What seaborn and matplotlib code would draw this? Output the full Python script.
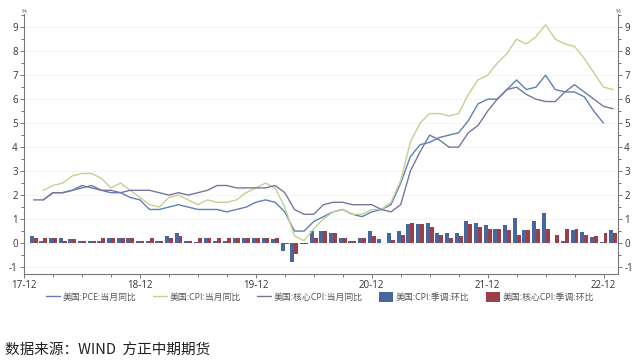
import pandas as pd
import matplotlib.pyplot as plt
import seaborn as sns
from matplotlib.lines import Line2D
from matplotlib.patches import Patch
from matplotlib.ticker import MultipleLocator

# month index: 0 = 2017-12, 1 = 2018-01, ... 61 = 2023-01
pce_start, cpi_start, core_start = 2, 2, 1

pce_yoy = [1.8, 2.1, 2.1, 2.2, 2.4, 2.3, 2.2, 2.1, 2.1, 1.9, 1.8,
           1.4, 1.4, 1.5, 1.6, 1.5, 1.4, 1.4, 1.4, 1.3, 1.4, 1.5, 1.7,
           1.8, 1.7, 1.3, 0.5, 0.5, 0.9, 1.1, 1.3, 1.4, 1.2, 1.1, 1.3,
           1.4, 1.6, 2.5, 3.6, 4.1, 4.2, 4.4, 4.5, 4.6, 5.1, 5.8, 6.0,
           6.0, 6.4, 6.8, 6.4, 6.5, 7.0, 6.4, 6.3, 6.3, 6.1, 5.5, 5.0]

cpi_yoy = [2.2, 2.4, 2.5, 2.8, 2.9, 2.9, 2.7, 2.3, 2.5, 2.2, 1.9,
           1.6, 1.5, 1.9, 2.0, 1.8, 1.6, 1.8, 1.7, 1.7, 1.8, 2.1, 2.3,
           2.5, 2.3, 1.5, 0.3, 0.1, 0.6, 1.0, 1.3, 1.4, 1.2, 1.2, 1.4,
           1.4, 1.7, 2.6, 4.2, 5.0, 5.4, 5.4, 5.3, 5.4, 6.2, 6.8, 7.0,
           7.5, 7.9, 8.5, 8.3, 8.6, 9.1, 8.5, 8.3, 8.2, 7.7, 7.1, 6.5,
           6.4]

core_yoy = [1.8, 1.8, 2.1, 2.1, 2.2, 2.3, 2.4, 2.2, 2.2, 2.1, 2.2, 2.2,
            2.2, 2.1, 2.0, 2.1, 2.0, 2.1, 2.2, 2.4, 2.4, 2.3, 2.3, 2.3,
            2.3, 2.4, 2.1, 1.4, 1.2, 1.2, 1.6, 1.7, 1.7, 1.6, 1.6, 1.6,
            1.4, 1.3, 1.6, 3.0, 3.8, 4.5, 4.3, 4.0, 4.0, 4.6, 4.9, 5.5,
            6.0, 6.4, 6.5, 6.2, 6.0, 5.9, 5.9, 6.3, 6.6, 6.3, 6.0, 5.7,
            5.6]

cpi_mom = [0.3, 0.1, 0.2, 0.2, 0.15, 0.1, 0.1, 0.1, 0.2, 0.2, 0.2, 0.1,
           0.1, 0.1, 0.3, 0.4, 0.1, 0.05, 0.2, 0.1, 0.1, 0.2, 0.2, 0.2,
           0.2, 0.15, -0.35, -0.8, -0.05, 0.5, 0.5, 0.42, 0.22, 0.1, 0.2, 0.5,
           0.18, 0.42, 0.5, 0.8, 0.8, 0.85, 0.42, 0.4, 0.42, 0.93, 0.85, 0.75,
           0.6, 0.75, 1.03, 0.53, 0.93, 1.24, 0.0, 0.1, 0.53, 0.46, 0.25, 0.05,
           0.53]

core_mom = [0.2, 0.2, 0.2, 0.1, 0.15, 0.1, 0.1, 0.2, 0.2, 0.2, 0.2, 0.1,
            0.2, 0.1, 0.2, 0.3, 0.1, 0.2, 0.2, 0.2, 0.2, 0.2, 0.2, 0.2,
            0.2, 0.2, -0.05, -0.45, -0.05, 0.2, 0.5, 0.42, 0.22, 0.1, 0.2, 0.28,
            0.02, 0.14, 0.32, 0.85, 0.8, 0.68, 0.32, 0.22, 0.28, 0.8, 0.68, 0.6,
            0.6, 0.53, 0.32, 0.56, 0.6, 0.6, 0.32, 0.6, 0.6, 0.32, 0.28, 0.42,
            0.42]

tick_labels = ['17-12', '18-12', '19-12', '20-12', '21-12', '22-12']

line_names = ['美国:PCE:当月同比', '美国:CPI:当月同比', '美国:核心CPI:当月同比']
bar_names = ['美国:CPI:季调:环比', '美国:核心CPI:季调:环比']
line_colors = ['#5f7fb8', '#c6cf92', '#76769f']
bar_colors = ['#46689f', '#9c3f49']

sns.set_theme(style='white')
plt.rcParams['font.family'] = ['Open Sans', 'Noto Sans CJK SC', 'DejaVu Sans']
plt.rcParams['axes.unicode_minus'] = False

lines_df = pd.concat([
    pd.DataFrame({'m': range(pce_start, pce_start + len(pce_yoy)), 'v': pce_yoy, 's': line_names[0]}),
    pd.DataFrame({'m': range(cpi_start, cpi_start + len(cpi_yoy)), 'v': cpi_yoy, 's': line_names[1]}),
    pd.DataFrame({'m': range(core_start, core_start + len(core_yoy)), 'v': core_yoy, 's': line_names[2]}),
])
bars_df = pd.concat([
    pd.DataFrame({'m': range(1, 1 + len(cpi_mom)), 'v': cpi_mom, 's': bar_names[0]}),
    pd.DataFrame({'m': range(1, 1 + len(core_mom)), 'v': core_mom, 's': bar_names[1]}),
])

fig = plt.figure(figsize=(6.4, 3.63), dpi=100)
ax = fig.add_axes([24 / 640, 1 - 274 / 363, (618 - 24) / 640, (274 - 14) / 363])

ax.grid(axis='y', color='#f2f2f2', lw=0.6)
ax.set_axisbelow(True)

sns.barplot(data=bars_df, x='m', y='v', hue='s', native_scale=True, dodge=True,
            palette=dict(zip(bar_names, bar_colors)), width=0.82, legend=False,
            saturation=1, linewidth=0, ax=ax)
sns.lineplot(data=lines_df, x='m', y='v', hue='s',
             palette=dict(zip(line_names, line_colors)), linewidth=1.0,
             legend=False, ax=ax)

ax.set_xlim(0, 61.5)
ax.set_ylim(-1.29, 9.55)
ax.set_xticks(range(0, 61, 12))
ax.set_xticklabels(tick_labels)
ax.xaxis.set_minor_locator(MultipleLocator(3))
ax.set_yticks(range(-1, 10))
ax.yaxis.set_minor_locator(MultipleLocator(0.5))
ax.set_xlabel('')
ax.set_ylabel('')

for side in ['left', 'right', 'bottom']:
    ax.spines[side].set_color('#777777')
    ax.spines[side].set_linewidth(0.8)
ax.spines['top'].set_visible(False)

ax.tick_params(axis='both', which='both', direction='out', colors='#777777',
               labelcolor='#333333', labelsize=7, width=0.7)
ax.tick_params(axis='both', which='major', length=3, pad=1.5)
ax.tick_params(axis='both', which='minor', length=2)
ax.tick_params(axis='y', which='both', left=True, right=True, labelright=True)
ax.tick_params(axis='x', which='both', bottom=True)

ax.text(0, 1.0, '%', transform=ax.transAxes, ha='center', va='bottom', fontsize=4.5, color='#555555')
ax.text(1, 1.0, '%', transform=ax.transAxes, ha='center', va='bottom', fontsize=4.5, color='#555555')

handles = [Line2D([], [], color=c, lw=1.0) for c in line_colors] + \
          [Patch(facecolor=c, edgecolor='none') for c in bar_colors]
leg = fig.legend(handles, line_names + bar_names, loc='center', bbox_to_anchor=(0.5, 1 - 297 / 363),
                 ncol=5, frameon=False, fontsize=6.4, handlelength=1.6, handleheight=1.3,
                 handletextpad=0.3, columnspacing=1.8)
for t in leg.get_texts():
    t.set_color('#555555')

fig.text(5 / 640, 1 - 350 / 363, '数据来源：WIND  方正中期期货', ha='left', va='center',
         fontsize=10.5, color='#222222', family=['Noto Sans CJK SC', 'DejaVu Sans'])

fig.savefig('out.png', dpi=100)
